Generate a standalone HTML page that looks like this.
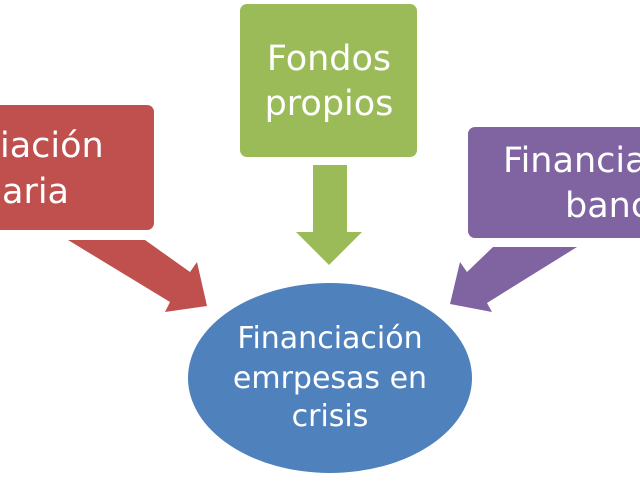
<!DOCTYPE html>
<html><head><style>
body{margin:0;background:#fff;width:640px;height:480px;overflow:hidden}
text{font-family:"DejaVu Sans","Liberation Sans",sans-serif;fill:#fff}
</style></head><body>
<svg width="640" height="480" viewBox="0 0 640 480">
<rect x="-20" y="105" width="174" height="125" rx="7" fill="#c0504d"/>
<text x="0" y="157" font-size="35">iación</text>
<text x="2" y="203" font-size="35">aria</text>
<polygon points="68,240 145,240 190,272 197,262 207,306 165,312 170,302" fill="#c0504d"/>
<rect x="240" y="4" width="177" height="153" rx="7" fill="#9bbb59"/>
<text x="329" y="70" font-size="35" text-anchor="middle">Fondos</text>
<text x="329" y="115" font-size="35" text-anchor="middle">propios</text>
<polygon points="313,165 347,165 347,232 362,232 329,265 296,232 313,232" fill="#9bbb59"/>
<rect x="468" y="127" width="190" height="111" rx="7" fill="#8064a2"/>
<text x="503" y="172" font-size="35">Financia</text>
<text x="565" y="217" font-size="35">banc</text>
<polygon points="493,247 577,247 487,303 492,312 450,304 460,262 467,272" fill="#8064a2"/>
<ellipse cx="330" cy="378" rx="142" ry="95" fill="#4f81bd"/>
<text x="330" y="348" font-size="30" text-anchor="middle">Financiación</text>
<text x="330" y="388" font-size="30" text-anchor="middle">emrpesas en</text>
<text x="330" y="426" font-size="30" text-anchor="middle">crisis</text>
</svg>
</body></html>
